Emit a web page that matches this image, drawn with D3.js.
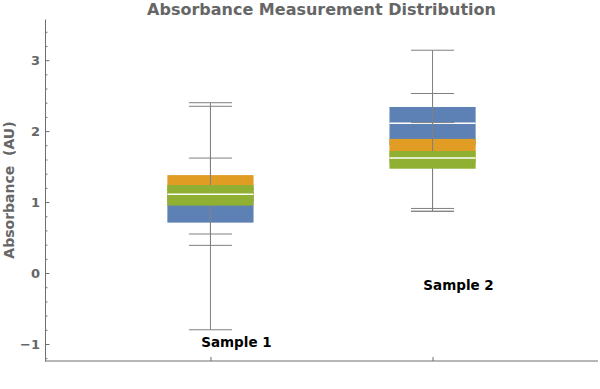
<!DOCTYPE html>
<html>
<head>
<meta charset="utf-8">
<script src="https://cdn.jsdelivr.net/npm/d3@7"></script>
<style>
  body { margin: 0; background: #fff; }
  text { font-family: "DejaVu Sans", sans-serif; font-weight: bold; }
</style>
</head>
<body>
<svg></svg>
<script>
// categories and three overlaid data sets, each [min, q1, median, q3, max]
const categories = ["Sample 1", "Sample 2"];
const seriesBlue   = [[-0.80, 0.71, 1.00, 1.20, 2.40], [0.87, 1.80, 2.11, 2.34, 3.14]];
const seriesOrange = [[0.55, 1.00, 1.15, 1.38, 1.62], [0.91, 1.55, 1.70, 1.89, 2.12]];
const seriesGreen  = [[0.39, 0.95, 1.11, 1.24, 2.35], [0.87, 1.47, 1.62, 1.72, 2.53]];
const labelValues = [-0.97, -0.17];
const yTicks = [-1, 0, 1, 2, 3];

const width = 600, height = 389;
const colors = ["#5e81b5", "#e19c24", "#8fb032"];
const series = [seriesBlue, seriesOrange, seriesGreen];

let svg = d3.select("svg").attr("width", width).attr("height", height);

let x = d3.scalePoint().domain(categories).range([45, 598]).padding(0.745);
let y = d3.scaleLinear().domain([-1.24, 3.58]).range([361, 19]);

let boxW = x.step() * 0.388;
let capW = boxW / 2;

// minor ticks
let minor = d3.range(-1.2, 3.6, 0.2).filter(v => Math.abs(v - Math.round(v)) > 0.01);
svg.append("g")
  .attr("transform", "translate(45,0)")
  .call(d3.axisLeft(y).tickValues(minor).tickSize(-2.5).tickSizeOuter(0).tickFormat(""))
  .call(g => g.select(".domain").remove())
  .selectAll("line").attr("stroke", "#777");

let gy = svg.append("g")
  .attr("transform", "translate(45,0)")
  .call(d3.axisLeft(y).tickValues(yTicks).tickSize(-4.5).tickSizeOuter(0).tickPadding(5)
    .tickFormat(d => d < 0 ? "\u2212" + Math.abs(d) : d));
gy.select(".domain").attr("stroke", "#6e6e6e");
gy.selectAll("line").attr("stroke", "#6e6e6e");
gy.selectAll("text").attr("fill", "#666").style("font-size", "13px");

let gx = svg.append("g")
  .attr("transform", "translate(0,361)")
  .call(d3.axisBottom(x).tickSize(-4).tickSizeOuter(0).tickFormat(""));
gx.select(".domain").attr("stroke", "#6e6e6e").attr("d", "M45,0H598");
gx.selectAll("line").attr("stroke", "#6e6e6e");

// overlaid box-whiskers: each set draws whisker, caps, box, median
series.forEach((s, si) => {
  let g = svg.append("g");
  s.forEach((st, ci) => {
    let cx = x(categories[ci]);
    let [mn, q1, md, q3, mx] = st;
    g.append("line")
      .attr("x1", cx).attr("x2", cx)
      .attr("y1", y(mn)).attr("y2", y(mx))
      .attr("stroke", "#808080").attr("stroke-width", 1);
    [mn, mx].forEach(v => {
      g.append("line")
        .attr("x1", cx - capW / 2).attr("x2", cx + capW / 2)
        .attr("y1", y(v)).attr("y2", y(v))
        .attr("stroke", "#808080").attr("stroke-width", 1);
    });
    g.append("rect")
      .attr("x", cx - boxW / 2).attr("width", boxW)
      .attr("y", y(q3)).attr("height", y(q1) - y(q3))
      .attr("fill", colors[si]);
    g.append("line")
      .attr("x1", cx - boxW / 2).attr("x2", cx + boxW / 2)
      .attr("y1", y(md)).attr("y2", y(md))
      .attr("stroke", "#fff").attr("stroke-width", 1.4);
  });
});

// category labels
svg.selectAll(".cat").data(categories).enter().append("text")
  .attr("x", d => x(d) + 26)
  .attr("y", (d, i) => y(labelValues[i]))
  .attr("text-anchor", "middle")
  .attr("dominant-baseline", "central")
  .style("font-size", "13.5px")
  .attr("fill", "#000")
  .text(d => d);

svg.append("text")
  .attr("x", 321.5).attr("y", 15)
  .attr("text-anchor", "middle")
  .style("font-size", "16px")
  .attr("fill", "#666")
  .text("Absorbance Measurement Distribution");

svg.append("text")
  .attr("transform", "translate(14,190) rotate(-90)")
  .attr("text-anchor", "middle")
  .style("font-size", "14px")
  .style("white-space", "pre")
  .attr("fill", "#666")
  .text("Absorbance  (AU)");
</script>
</body>
</html>
